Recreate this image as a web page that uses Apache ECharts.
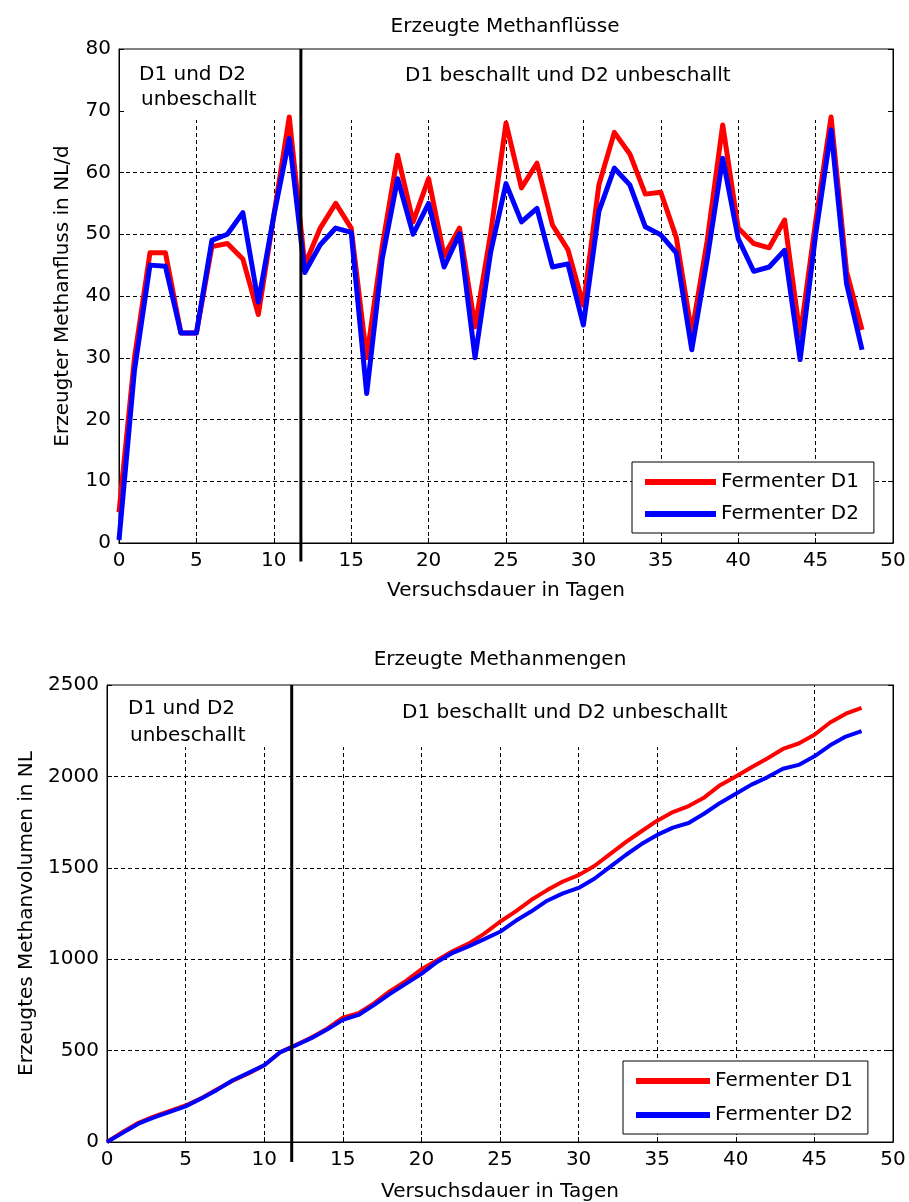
<!DOCTYPE html>
<html>
<head>
<meta charset="utf-8">
<script src="https://cdn.jsdelivr.net/npm/echarts@6/dist/echarts.min.js"></script>
<style>
  html, body { margin: 0; padding: 0; background: #fff; }
  #chart { width: 909px; height: 1202px; }
</style>
</head>
<body>
<div id="chart"></div>
<script>
// ---- Data ----
const days = [0,1,2,3,4,5,6,7,8,9,10,11,12,13,14,15,16,17,18,19,20,21,22,23,24,25,26,27,28,29,30,31,32,33,34,35,36,37,38,39,40,41,42,43,44,45,46,47,48];

// Erzeugte Methanflüsse (NL/d)
const flowD1 = [5,30,47,47,34,34,48,48.5,46,37,53,69,45,51,55,51,30,48,62.8,52,59,46.5,51,35,50,68,57.5,61.5,51.5,47.5,38.5,58,66.5,63,56.5,56.8,49.5,34,49,67.7,51,48.5,47.8,52.3,33.5,52,69,44,34.5];
const flowD2 = [0.5,28,45,44.8,34,34,49,50,53.5,39,53,65.5,43.8,48.3,51,50.3,24.2,46,59,50,55,44.7,50.1,30,47,58.2,52,54.2,44.7,45.2,35.3,53.7,60.7,58,51.2,49.9,47,31.3,46,62.3,49.3,44,44.7,47.4,29.7,49.9,66.9,42,31.3];

// Erzeugte Methanmengen (NL)
const volD1 = [0,55,105,140,170,200,240,288,335,375,420,490,530,572,620,680,705,760,825,880,945,995,1045,1085,1140,1205,1262,1325,1378,1425,1460,1510,1575,1640,1700,1758,1805,1838,1885,1952,2000,2050,2098,2150,2180,2228,2295,2343,2375];
const volD2 = [0,50,100,135,165,195,238,285,338,378,420,490,528,568,615,668,695,750,810,865,920,985,1035,1070,1110,1150,1210,1262,1320,1360,1390,1440,1505,1570,1630,1680,1720,1745,1797,1855,1905,1955,1995,2042,2063,2110,2170,2218,2248];

const seriesNames = ['Fermenter D1', 'Fermenter D2'];
const phaseSplitDay = 11.75;   // Beginn der Beschallung
const labelPhase1a = 'D1 und D2';
const labelPhase1b = 'unbeschallt';
const labelPhase2 = 'D1 beschallt und D2 unbeschallt';

const titleTop = 'Erzeugte Methanflüsse';
const titleBottom = 'Erzeugte Methanmengen';
const xName = 'Versuchsdauer in Tagen';
const yNameTop = 'Erzeugter Methanfluss in NL/d';
const yNameBottom = 'Erzeugtes Methanvolumen in NL';

// axis scales
const xTicks = [0,5,10,15,20,25,30,35,40,45,50];
const yTicksTop = [0,10,20,30,40,50,60,70,80];
const yTicksBottom = [0,500,1000,1500,2000,2500];

// grid lines (drawn only below the white annotation boxes)
const topHGrid = [10,20,30,40,50,60];
const topVGrid = [5,10,15,20,25,30,35,40,45];
const topVGridEnd = 68.5;
const bottomHGrid = [500,1000,1500,2000];
const bottomVGrid = [5,10,15,20,25,30,35,40,45];
const bottomVGridEnd = [2160,2160,2160,2160,2160,2160,2160,2160,2500];

// ---- Build chart ----
const FONT = '"DejaVu Sans", sans-serif';
const chart = echarts.init(document.getElementById('chart'), null, { renderer: 'canvas' });

function pairs(xs, ys) { return xs.map((x, i) => [x, ys[i]]); }

const xMin = xTicks[0], xMax = xTicks[xTicks.length - 1], xInt = xTicks[1] - xTicks[0];
const plainNum = v => String(v);

function xAxisFor(gridIndex, nameGap) {
  return {
    gridIndex, type: 'value', position: 'bottom',
    min: xMin, max: xMax, interval: xInt,
    axisLine: { show: true, onZero: false, lineStyle: { color: '#000', width: 1 } },
    axisTick: { show: true, inside: true, length: 5, lineStyle: { color: '#000' } },
    axisLabel: { fontSize: 20, fontFamily: FONT, color: '#000', margin: 8, formatter: plainNum },
    splitLine: { show: false },
    name: xName, nameLocation: 'middle', nameGap,
    nameTextStyle: { fontSize: 20, fontFamily: FONT, color: '#000' }
  };
}
function yAxisFor(gridIndex, ticks, side, name, nameGap) {
  const ax = {
    gridIndex, type: 'value', position: side,
    min: ticks[0], max: ticks[ticks.length - 1], interval: ticks[1] - ticks[0],
    axisLine: { show: true, onZero: false, lineStyle: { color: '#000', width: 1 } },
    axisTick: { show: true, inside: true, length: 5, lineStyle: { color: '#000' } },
    axisLabel: { show: side === 'left', fontSize: 20, fontFamily: FONT, color: '#000', margin: 8, formatter: plainNum },
    splitLine: { show: false }
  };
  if (name) {
    ax.name = name; ax.nameLocation = 'middle'; ax.nameGap = nameGap;
    ax.nameTextStyle = { fontSize: 20, fontFamily: FONT, color: '#000' };
  }
  return ax;
}

const gridLineStyle = { type: [4, 3], color: '#000', width: 1 };
function gridSeries(xAxisIndex, yAxisIndex, hVals, vVals, vEnds, yMin) {
  const data = [];
  hVals.forEach(v => data.push([{ coord: [xMin, v] }, { coord: [xMax, v] }]));
  vVals.forEach((v, i) => data.push([{ coord: [v, yMin] }, { coord: [v, Array.isArray(vEnds) ? vEnds[i] : vEnds] }]));
  return {
    type: 'line', name: 'grid', xAxisIndex, yAxisIndex, data: [], z: 1, silent: true,
    markLine: { z: 1, silent: true, symbol: ['none', 'none'], label: { show: false },
      lineStyle: gridLineStyle, emphasis: { disabled: true }, animation: false, data }
  };
}
function dividerSeries(xAxisIndex, yAxisIndex, top, below) {
  return {
    type: 'line', name: 'divider', xAxisIndex, yAxisIndex, clip: false, z: 4, silent: true,
    showSymbol: false, symbol: 'none',
    lineStyle: { color: '#000', width: 3 },
    data: [[phaseSplitDay, top], [phaseSplitDay, below]]
  };
}
function dataSeries(name, xAxisIndex, yAxisIndex, ys, color, width) {
  return {
    type: 'line', name, xAxisIndex, yAxisIndex, z: 3,
    showSymbol: false, symbol: 'none', color,
    lineStyle: { color, width, join: 'round' },
    data: pairs(days, ys)
  };
}
function legendAt(left, top, itemWidth, itemGap) {
  return {
    data: seriesNames, orient: 'vertical', left, top, z: 20,
    icon: 'rect', itemWidth, itemHeight: 6, itemGap,
    padding: [9, 15, 8, 13], selectedMode: false,
    backgroundColor: '#fff', borderColor: '#000', borderWidth: 1, borderRadius: 0,
    textStyle: { fontSize: 20, fontFamily: FONT, color: '#000', lineHeight: 22 }
  };
}
function txt(text, x, y, align) {
  return { type: 'text', x, y, z: 10,
    style: { text, fill: '#000', font: '20px ' + FONT, textAlign: align || 'left', textVerticalAlign: 'middle' } };
}

const option = {
  animation: false,
  backgroundColor: '#fff',
  grid: [
    { left: 119, top: 49, width: 774, height: 494, show: true, borderColor: '#000', borderWidth: 1, backgroundColor: 'transparent', outerBoundsMode: 'none' },
    { left: 107, top: 685, width: 786, height: 457, show: true, borderColor: '#000', borderWidth: 1, backgroundColor: 'transparent', outerBoundsMode: 'none' }
  ],
  xAxis: [ xAxisFor(0, 38), xAxisFor(1, 40) ],
  yAxis: [
    yAxisFor(0, yTicksTop, 'left', yNameTop, 46),
    yAxisFor(0, yTicksTop, 'right'),
    yAxisFor(1, yTicksBottom, 'left', yNameBottom, 68),
    yAxisFor(1, yTicksBottom, 'right')
  ],
  legend: [ legendAt(632, 462, 71, 10), legendAt(623, 1061, 74, 12) ],
  graphic: [
    txt(titleTop, 505, 27, 'center'),
    txt(titleBottom, 500, 660, 'center'),
    txt(labelPhase1a, 139, 75), txt(labelPhase1b, 141, 100), txt(labelPhase2, 405, 76),
    txt(labelPhase1a, 128, 709), txt(labelPhase1b, 130, 736), txt(labelPhase2, 402, 713)
  ],
  series: [
    gridSeries(0, 0, topHGrid, topVGrid, topVGridEnd, yTicksTop[0]),
    gridSeries(1, 2, bottomHGrid, bottomVGrid, bottomVGridEnd, yTicksBottom[0]),
    dataSeries(seriesNames[0], 0, 0, flowD1, '#ff0000', 5),
    dataSeries(seriesNames[1], 0, 0, flowD2, '#0000ff', 5),
    dataSeries(seriesNames[0], 1, 2, volD1, '#ff0000', 4),
    dataSeries(seriesNames[1], 1, 2, volD2, '#0000ff', 4),
    dividerSeries(0, 0, yTicksTop[yTicksTop.length - 1], -3),
    dividerSeries(1, 2, yTicksBottom[yTicksBottom.length - 1], -110)
  ]
};
chart.setOption(option);
</script>
</body>
</html>
